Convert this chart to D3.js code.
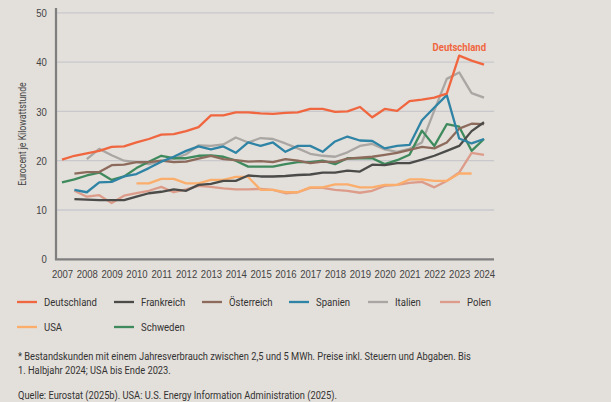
<!DOCTYPE html>
<html>
<head>
<meta charset="utf-8">
<script src="https://cdn.jsdelivr.net/npm/d3@7"></script>
<style>
  body { margin: 0; background: #e3dfda; }
  svg { display: block; font-family: Roboto, "Noto Sans", sans-serif; }
</style>
</head>
<body>
<div id="chart"></div>
<script>
// half-year steps: index 0 = 1. Halbjahr 2007, index 34 = 1. Halbjahr 2024
let years = [2007, 2008, 2009, 2010, 2011, 2012, 2013, 2014, 2015, 2016, 2017, 2018, 2019, 2020, 2021, 2022, 2023, 2024];
let yTicks = [0, 10, 20, 30, 40, 50];

let deutschland = [20.2, 21.0, 21.5, 22.0, 22.8, 22.9, 23.7, 24.4, 25.3, 25.4, 26.0, 26.8, 29.2, 29.2, 29.8, 29.8, 29.6, 29.5, 29.7, 29.8, 30.5, 30.5, 29.9, 30.0, 30.9, 28.8, 30.5, 30.1, 32.1, 32.4, 32.8, 33.6, 41.3, 40.3, 39.5];
let frankreich = [12.2, 12.1, 12.0, 12.0, 12.0, 12.7, 13.4, 13.7, 14.2, 13.9, 15.1, 15.3, 15.9, 15.9, 17.0, 16.8, 16.8, 16.9, 17.1, 17.2, 17.6, 17.6, 18.0, 17.8, 19.2, 19.1, 19.5, 19.5, 20.2, 21.0, 22.0, 23.0, 26.0, 27.8];
let oesterreich = [17.4, 17.7, 17.7, 19.1, 19.2, 19.7, 19.7, 20.0, 19.7, 19.8, 20.4, 21.0, 20.3, 20.1, 19.8, 19.9, 19.7, 20.3, 20.0, 19.5, 19.8, 19.7, 20.4, 20.6, 20.8, 21.2, 21.6, 22.2, 22.8, 22.5, 23.7, 26.5, 27.5, 27.4];
let spanien = [14.1, 13.6, 15.6, 15.7, 16.8, 17.3, 18.5, 19.8, 20.8, 22.0, 22.9, 22.3, 22.9, 21.6, 23.7, 23.0, 23.7, 21.8, 23.0, 23.0, 21.8, 23.9, 24.9, 24.1, 24.0, 22.5, 23.0, 23.2, 28.2, 30.8, 33.3, 24.5, 23.5, 24.4];
let italien = [20.3, 22.4, 21.1, 20.0, 19.7, 19.3, 19.9, 20.4, 21.3, 23.1, 23.0, 23.3, 24.7, 23.7, 24.6, 24.4, 23.5, 22.5, 21.4, 21.0, 20.8, 21.7, 23.0, 23.4, 22.3, 21.8, 22.4, 23.7, 30.2, 36.6, 37.9, 33.7, 32.8];
let polen = [13.9, 12.7, 13.0, 11.4, 12.9, 13.4, 13.9, 14.7, 13.6, 14.2, 14.9, 14.7, 14.4, 14.2, 14.2, 14.3, 14.1, 13.4, 13.6, 14.5, 14.5, 14.1, 13.9, 13.5, 13.9, 14.9, 15.1, 15.5, 15.7, 14.6, 15.9, 17.6, 21.6, 21.2];
let usa = [15.4, 15.4, 16.3, 16.3, 15.4, 15.4, 16.1, 16.1, 16.7, 16.7, 14.1, 14.1, 13.6, 13.6, 14.6, 14.6, 15.2, 15.2, 14.6, 14.6, 15.1, 15.1, 16.2, 16.2, 15.9, 15.9, 17.4, 17.4];
let schweden = [15.6, 16.2, 17.0, 17.6, 16.1, 16.8, 18.5, 19.8, 21.0, 20.5, 20.5, 21.0, 21.1, 20.8, 20.0, 18.8, 18.8, 18.8, 19.3, 19.7, 19.7, 20.0, 19.3, 20.5, 20.5, 20.5, 19.3, 20.1, 21.2, 26.1, 23.0, 27.4, 26.9, 22.0, 24.4];

// name, values, first half-year index, colour
let series = [
  { name: 'Deutschland', values: deutschland, start: 0, color: '#f0663f' },
  { name: 'Frankreich', values: frankreich, start: 1, color: '#4b4b49' },
  { name: 'Österreich', values: oesterreich, start: 1, color: '#8d6b5c' },
  { name: 'Spanien', values: spanien, start: 1, color: '#2f84a6' },
  { name: 'Italien', values: italien, start: 2, color: '#a9a6a3' },
  { name: 'Polen', values: polen, start: 1, color: '#dd9c8a' },
  { name: 'USA', values: usa, start: 6, color: '#fbae6c' },
  { name: 'Schweden', values: schweden, start: 0, color: '#3e8a5d' }
];
// order the lines are painted in (last one on top)
let drawOrder = ['Italien', 'Polen', 'USA', 'Schweden', 'Österreich', 'Frankreich', 'Spanien', 'Deutschland'];

let width = 611,
  height = 402,
  narrow = 'scale(0.83,1)'; // the original uses a condensed face

let svg = d3.select('#chart')
  .append('svg')
  .attr('width', width)
  .attr('height', height);

svg.append('rect')
  .attr('width', width)
  .attr('height', height)
  .attr('fill', '#e3dfda');

let xScale = d3.scaleLinear().domain([2007, 2024]).range([62, 484]);
let yScale = d3.scaleLinear().domain([0, 50]).range([259.3, 12.8]);

//grid lines
svg.append('g')
  .selectAll('line')
  .data(yTicks.filter(function (d) { return d > 0; }))
  .enter()
  .append('line')
  .attr('x1', 57)
  .attr('x2', 494)
  .attr('y1', function (d) { return yScale(d); })
  .attr('y2', function (d) { return yScale(d); })
  .attr('stroke', '#c9c8cc')
  .attr('stroke-width', 1.3);

//y axis
let yAxis = d3.axisLeft(yScale).tickValues(yTicks).tickSize(0).tickPadding(11);
let yg = svg.append('g')
  .attr('transform', 'translate(56, 0)')
  .call(yAxis);
yg.select('.domain').remove();
yg.selectAll('text')
  .attr('fill', '#444')
  .attr('transform', narrow)
  .style('font-size', '11.5px');
svg.append('line')
  .attr('x1', 56).attr('x2', 56)
  .attr('y1', 8).attr('y2', 260)
  .attr('stroke', '#7f7f7f')
  .attr('stroke-width', 2.2);

//x axis
let xAxis = d3.axisBottom(xScale).tickValues(years).tickFormat(d3.format('d')).tickSize(0).tickPadding(11);
let xg = svg.append('g')
  .attr('transform', 'translate(0, 259.3)')
  .call(xAxis);
xg.select('.domain').remove();
xg.selectAll('text')
  .attr('fill', '#444')
  .attr('transform', narrow)
  .style('font-size', '11.5px');
svg.append('line')
  .attr('x1', 55).attr('x2', 494)
  .attr('y1', 259.3).attr('y2', 259.3)
  .attr('stroke', '#7f7f7f')
  .attr('stroke-width', 2.2);

//axis title
svg.append('text')
  .attr('transform', 'translate(26, 134) rotate(-90) ' + narrow)
  .attr('text-anchor', 'middle')
  .attr('fill', '#444')
  .style('font-size', '10.5px')
  .text('Eurocent je Kilowattstunde');

//lines
let line = d3.line()
  .x(function (d) { return xScale(d.t); })
  .y(function (d) { return yScale(d.v); });

drawOrder.forEach(function (name) {
  let s = series.find(function (item) { return item.name === name; });
  let pts = s.values.map(function (v, i) {
    return { t: 2007 + (s.start + i) / 2, v: v };
  });
  svg.append('path')
    .datum(pts)
    .attr('d', line)
    .attr('fill', 'none')
    .attr('stroke', s.color)
    .attr('stroke-width', 2.3)
    .attr('stroke-linejoin', 'round');
});

//label for Deutschland
svg.append('text')
  .attr('transform', 'translate(486, 50.5) ' + narrow)
  .attr('text-anchor', 'end')
  .attr('fill', '#f0663f')
  .style('font-size', '11.5px')
  .style('font-weight', 'bold')
  .text('Deutschland');

//legend
let legendCols = [17, 114, 202, 289, 368, 440];
let legend = svg.append('g')
  .selectAll('g')
  .data(series)
  .enter()
  .append('g')
  .attr('transform', function (d, i) {
    return 'translate(' + legendCols[i % 6] + ',' + (i < 6 ? 302 : 327) + ')';
  });
legend.append('line')
  .attr('x1', 0).attr('x2', 20)
  .attr('stroke', function (d) { return d.color; })
  .attr('stroke-width', 2.3);
legend.append('text')
  .attr('transform', 'translate(27, 0) ' + narrow)
  .attr('dy', '0.35em')
  .attr('fill', '#333')
  .style('font-size', '11.5px')
  .text(function (d) { return d.name; });

//footnotes
let notes = [
  { text: '* Bestandskunden mit einem Jahresverbrauch zwischen 2,5 und 5 MWh. Preise inkl. Steuern und Abgaben. Bis', y: 359.5 },
  { text: '1. Halbjahr 2024; USA bis Ende 2023.', y: 373.5 },
  { text: 'Quelle: Eurostat (2025b). USA: U.S. Energy Information Administration (2025).', y: 398.5 }
];
svg.selectAll('.note')
  .data(notes)
  .enter()
  .append('text')
  .attr('class', 'note')
  .attr('transform', function (d) { return 'translate(18,' + d.y + ') ' + narrow; })
  .attr('fill', '#333')
  .style('font-size', '11.2px')
  .text(function (d) { return d.text; });
</script>
</body>
</html>
